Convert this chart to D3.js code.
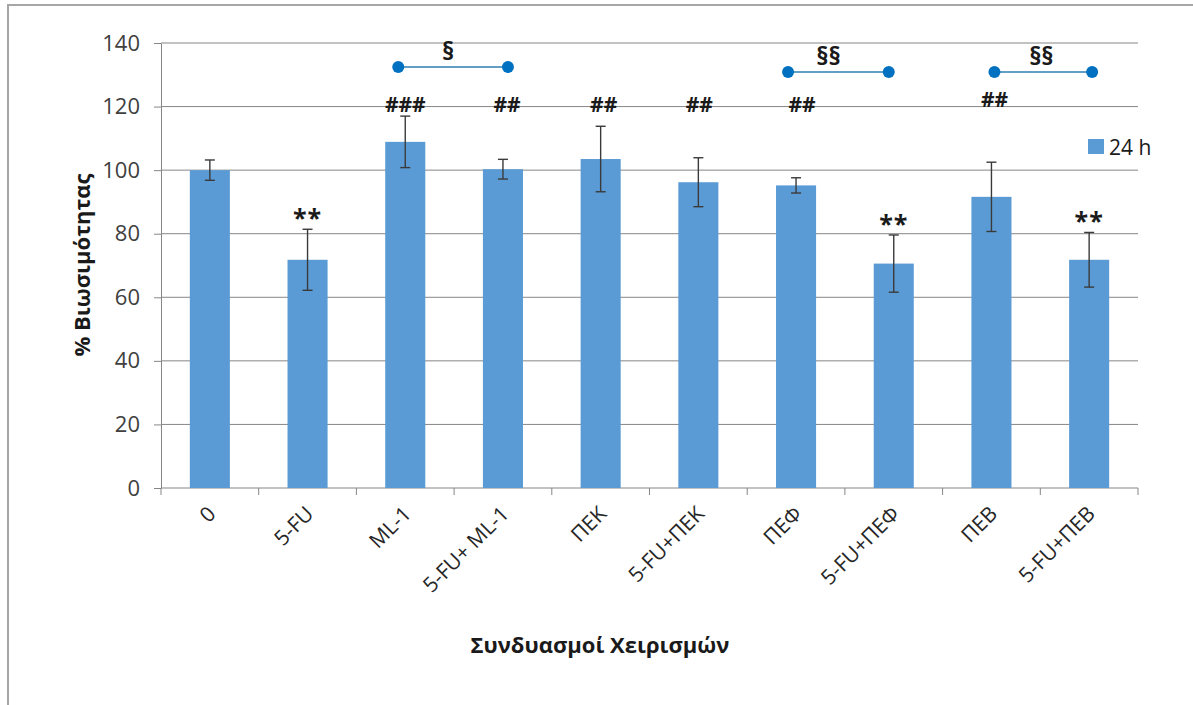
<!DOCTYPE html>
<html>
<head>
<meta charset="utf-8">
<script src="https://cdn.jsdelivr.net/npm/d3@7/dist/d3.min.js"></script>
<style>
  html, body { margin: 0; padding: 0; background: #ffffff; }
  svg { display: block; font-family: "Open Sans", "Noto Sans", sans-serif; }
</style>
</head>
<body>
<svg id="chart" width="1193" height="705"></svg>
<script>
// Cell viability after 24 h of treatment (mean ± SD)
const categories = ["0", "5-FU", "ML-1", "5-FU+ ML-1", "ΠΕΚ", "5-FU+ΠΕΚ", "ΠΕΦ", "5-FU+ΠΕΦ", "ΠΕΒ", "5-FU+ΠΕΒ"];
const viability = [100, 71.8, 108.9, 100.3, 103.5, 96.2, 95.2, 70.6, 91.6, 71.8];
const errors = [3.2, 9.6, 8.1, 3.1, 10.3, 7.7, 2.4, 9.0, 10.9, 8.6];
const starMarks = ["", "**", "", "", "", "", "", "**", "", "**"];
const hashMarks = ["", "", "###", "##", "##", "##", "##", "", "##", ""];
const pairs = [
  { from: "ML-1", to: "5-FU+ ML-1", mark: "§" },
  { from: "ΠΕΦ", to: "5-FU+ΠΕΦ", mark: "§§" },
  { from: "ΠΕΒ", to: "5-FU+ΠΕΒ", mark: "§§" }
];
const yTicks = [0, 20, 40, 60, 80, 100, 120, 140];
const seriesName = "24 h";

const svg = d3.select("#chart");
const plot = { left: 161, right: 1138, top: 43, bottom: 488 };
const barColor = "#5b9bd5";
const axisColor = "#868686";
const font = "'Open Sans', 'Noto Sans', sans-serif";

// outer chart frame
svg.append("rect")
  .attr("x", 8).attr("y", 5)
  .attr("width", 1240).attr("height", 760)
  .attr("fill", "none").attr("stroke", "#a6a6a6").attr("stroke-width", 2);

const x = d3.scaleBand()
  .domain(categories)
  .range([plot.left, plot.right])
  .paddingInner(0.59)
  .paddingOuter(0.295);

const y = d3.scaleLinear()
  .domain([0, 140])
  .range([plot.bottom, plot.top]);

const step = x.step();
const cx = c => x(c) + x.bandwidth() / 2;

// horizontal gridlines
svg.append("g")
  .selectAll("line")
  .data(yTicks.filter(t => t > 0))
  .join("line")
  .attr("x1", plot.left).attr("x2", plot.right)
  .attr("y1", d => y(d)).attr("y2", d => y(d))
  .attr("stroke", axisColor).attr("stroke-width", 1);

// y axis
const yAxis = svg.append("g")
  .attr("transform", `translate(${plot.left},0)`)
  .call(d3.axisLeft(y).tickValues(yTicks).tickSize(7).tickPadding(14).tickSizeOuter(0));
yAxis.attr("font-family", font).attr("font-size", 22);
yAxis.select(".domain").attr("stroke", axisColor);
yAxis.selectAll(".tick line").attr("stroke", axisColor);
yAxis.selectAll(".tick text").attr("fill", "#404040");

// x axis line and category boundary ticks
svg.append("line")
  .attr("x1", plot.left).attr("x2", plot.right)
  .attr("y1", plot.bottom).attr("y2", plot.bottom)
  .attr("stroke", axisColor).attr("stroke-width", 1);
svg.append("g")
  .selectAll("line")
  .data(d3.range(categories.length + 1))
  .join("line")
  .attr("x1", i => plot.left + i * step).attr("x2", i => plot.left + i * step)
  .attr("y1", plot.bottom).attr("y2", plot.bottom + 7)
  .attr("stroke", axisColor);

// rotated category labels
svg.append("g")
  .attr("font-family", font)
  .selectAll("text")
  .data(categories)
  .join("text")
  .attr("transform", d => `translate(${cx(d) + 2},${plot.bottom + 22}) rotate(-45)`)
  .attr("text-anchor", "end")
  .attr("dy", "0.35em")
  .attr("font-size", 21)
  .attr("fill", "#262626")
  .text(d => d);

// bars
svg.append("g")
  .selectAll("rect")
  .data(categories)
  .join("rect")
  .attr("x", d => x(d))
  .attr("width", x.bandwidth())
  .attr("y", (d, i) => y(viability[i]))
  .attr("height", (d, i) => y(0) - y(viability[i]))
  .attr("fill", barColor);

// error bars
const eb = svg.append("g").attr("stroke", "#3a3a3a").attr("stroke-width", 1.4);
categories.forEach((c, i) => {
  const hi = y(viability[i] + errors[i]);
  const lo = y(viability[i] - errors[i]);
  eb.append("line").attr("x1", cx(c)).attr("x2", cx(c)).attr("y1", hi).attr("y2", lo);
  eb.append("line").attr("x1", cx(c) - 5).attr("x2", cx(c) + 5).attr("y1", hi).attr("y2", hi);
  eb.append("line").attr("x1", cx(c) - 5).attr("x2", cx(c) + 5).attr("y1", lo).attr("y2", lo);
});

// significance vs control (**)
svg.append("g")
  .attr("font-family", font)
  .selectAll("text")
  .data(categories.filter((c, i) => starMarks[i]))
  .join("text")
  .attr("x", d => cx(d))
  .attr("y", d => {
    const i = categories.indexOf(d);
    return y(viability[i] + errors[i]) - 2;
  })
  .attr("text-anchor", "middle")
  .attr("font-size", 25)
  .attr("font-weight", "bold")
  .attr("letter-spacing", 1)
  .attr("fill", "#1a1a1a")
  .text(d => starMarks[categories.indexOf(d)]);

// significance vs 5-FU (#)
const hashNudge = { "ML-1": 0, "5-FU+ ML-1": 4, "ΠΕΚ": 3, "5-FU+ΠΕΚ": 1, "ΠΕΦ": 6, "ΠΕΒ": 3 };
const hashBase = { "ΠΕΒ": 107 };
svg.append("g")
  .attr("font-family", font)
  .selectAll("text")
  .data(categories.filter((c, i) => hashMarks[i]))
  .join("text")
  .attr("x", d => cx(d) + (hashNudge[d] || 0))
  .attr("y", d => hashBase[d] || 112)
  .attr("text-anchor", "middle")
  .attr("font-size", 21)
  .attr("font-weight", "bold")
  .attr("fill", "#1a1a1a")
  .text(d => hashMarks[categories.indexOf(d)]);

// pairwise comparisons (§): bracket level, end nudges and label nudge
const pairLevel = [67, 72, 72];
const pairEnds = [[-7, 5], [-8, -5], [3, 3]];
const pairLabelShift = [-5, -10, -2];
const pg = svg.append("g").attr("font-family", font);
pairs.forEach((p, k) => {
  const x1 = cx(p.from) + pairEnds[k][0], x2 = cx(p.to) + pairEnds[k][1];
  const ly = pairLevel[k];
  pg.append("line")
    .attr("x1", x1).attr("x2", x2).attr("y1", ly).attr("y2", ly)
    .attr("stroke", "#2f7fb0").attr("stroke-width", 1.4);
  pg.selectAll(null).data([x1, x2]).enter().append("circle")
    .attr("cx", d => d).attr("cy", ly).attr("r", 6)
    .attr("fill", "#0070c0");
  pg.append("text")
    .attr("x", (x1 + x2) / 2 + pairLabelShift[k])
    .attr("y", ly - 7)
    .attr("text-anchor", "middle")
    .attr("font-size", 25)
    .attr("font-weight", "bold")
    .attr("fill", "#1a1a1a")
    .text(p.mark);
});

// legend
svg.append("rect")
  .attr("x", 1088).attr("y", 139).attr("width", 16).attr("height", 15)
  .attr("fill", barColor);
svg.append("text")
  .attr("x", 1109).attr("y", 155)
  .attr("font-family", font)
  .attr("font-size", 21)
  .attr("fill", "#1a1a1a")
  .text(seriesName);

// axis titles
svg.append("text")
  .attr("transform", "translate(90,265) rotate(-90)")
  .attr("text-anchor", "middle")
  .attr("font-family", font)
  .attr("font-size", 22)
  .attr("font-weight", "bold")
  .attr("fill", "#1a1a1a")
  .text("% Βιωσιμότητας");
svg.append("text")
  .attr("x", 600).attr("y", 653)
  .attr("text-anchor", "middle")
  .attr("font-family", font)
  .attr("font-size", 22)
  .attr("font-weight", "bold")
  .attr("fill", "#1a1a1a")
  .text("Συνδυασμοί Χειρισμών");
</script>
</body>
</html>
